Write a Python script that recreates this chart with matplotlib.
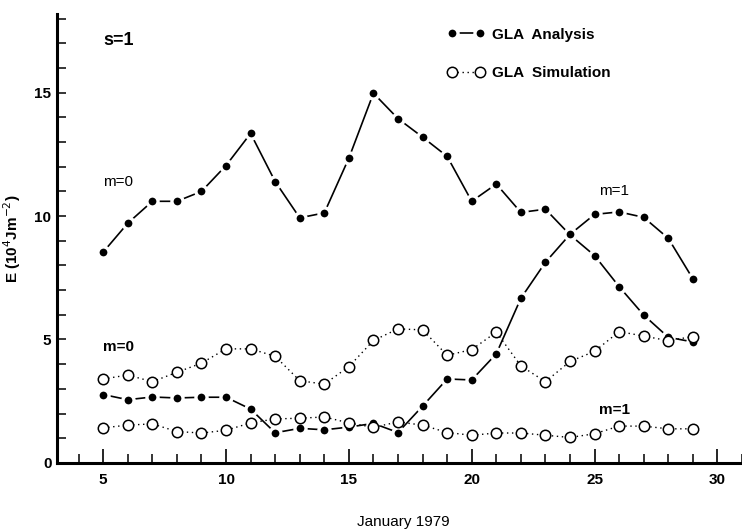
import matplotlib.pyplot as plt
from matplotlib.ticker import MultipleLocator, FixedLocator

plt.rcParams['font.family'] = ['Liberation Sans Narrow', 'Liberation Sans', 'DejaVu Sans']

days = list(range(5, 30))

# GLA analysis, wavenumber m=0 and m=1 (filled dots)
ana_m0 = [8.54, 9.71, 10.6, 10.6, 11.0, 12.05, 13.35, 11.4, 9.93, 10.13, 12.35, 14.98,
          13.95, 13.2, 12.42, 10.6, 11.3, 10.15, 10.28, 9.24, 8.4, 7.14, 5.99, 5.09, 4.9]
ana_m1 = [2.77, 2.56, 2.67, 2.63, 2.66, 2.66, 2.18, 1.22, 1.4, 1.34, 1.45, 1.6,
          1.23, 2.3, 3.4, 3.36, 4.42, 6.67, 8.13, 9.26, 10.07, 10.17, 9.95, 9.1, 7.46]

# GLA simulation (open circles)
sim_m0 = [3.4, 3.56, 3.29, 3.67, 4.04, 4.62, 4.62, 4.32, 3.33, 3.19, 3.9, 4.96,
          5.43, 5.39, 4.36, 4.59, 5.3, 3.93, 3.29, 4.11, 4.52, 5.32, 5.14, 4.95, 5.12]
sim_m1 = [1.42, 1.53, 1.58, 1.27, 1.21, 1.32, 1.62, 1.78, 1.81, 1.86, 1.62, 1.44,
          1.66, 1.53, 1.23, 1.12, 1.21, 1.21, 1.12, 1.03, 1.18, 1.49, 1.49, 1.38, 1.38]

fig = plt.figure(figsize=(7.42, 5.29), dpi=100)
ax = fig.add_axes([0.0768, 0.125, 0.9232, 0.849])

ana_style = dict(color='black', lw=1.2, marker='o', ms=8, mfc='black',
                 mec='white', mew=2.4)
sim_style = dict(color='black', lw=1.0, ls=(0, (1, 2.6)), marker='o', ms=7.5,
                 mfc='white', mec='black', mew=1.1)

ax.plot(days, ana_m0, label='GLA  Analysis', **ana_style)
ax.plot(days, ana_m1, **ana_style)
ax.plot(days, sim_m0, label='GLA  Simulation', **sim_style)
ax.plot(days, sim_m1, **sim_style)

ax.set_xlim(3.12, 31.0)
ax.set_ylim(0, 18.2)

ax.xaxis.set_major_locator(FixedLocator([5, 10, 15, 20, 25, 30]))
ax.xaxis.set_minor_locator(MultipleLocator(1))
ax.yaxis.set_major_locator(FixedLocator([0, 5, 10, 15]))
ax.yaxis.set_minor_locator(MultipleLocator(1))

ax.tick_params(axis='x', which='major', direction='in', length=10, width=1.2, pad=7,
               labelsize=11)
ax.tick_params(axis='x', which='minor', direction='in', length=6.5, width=1.1)
ax.tick_params(axis='y', which='both', direction='in', length=6.5, width=1.1, pad=4,
               labelsize=11)
for lab in ax.get_xticklabels() + ax.get_yticklabels():
    lab.set_fontweight('bold')

for side in ['top', 'right']:
    ax.spines[side].set_visible(False)
for side in ['left', 'bottom']:
    ax.spines[side].set_linewidth(2.2)

ax.set_ylabel('E (10$^4$Jm$^{-2}$)', fontsize=11, fontweight='bold', labelpad=8)
fig.text(0.543, 0.0, 'January 1979', ha='center', va='bottom', fontsize=11)

ax.text(5.0, 17.1, 's=1', fontsize=13, fontweight='bold', va='center')
ax.text(5.0, 11.4, 'm=0', fontsize=11, va='center')
ax.text(5.0, 4.68, 'm=0', fontsize=11, fontweight='bold', va='center')
ax.text(25.2, 11.0, 'm=1', fontsize=11, va='center')
ax.text(25.2, 2.15, 'm=1', fontsize=11, fontweight='bold', va='center')

ax.legend(loc='upper left', bbox_to_anchor=(0.55, 1.0), frameon=False,
          numpoints=2, handlelength=2.4, handletextpad=0.5, labelspacing=1.6,
          prop={'size': 11, 'weight': 'bold'})

fig.savefig('out.png', dpi=100)
